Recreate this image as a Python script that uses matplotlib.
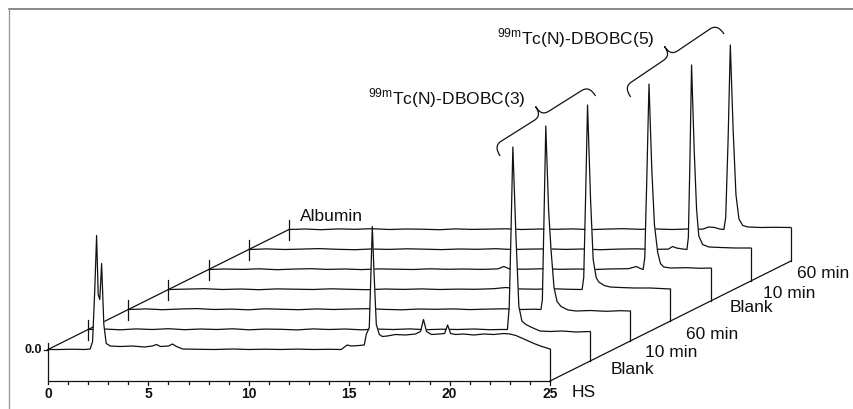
import matplotlib.pyplot as plt
from matplotlib.path import Path
from matplotlib.patches import PathPatch
from matplotlib.lines import Line2D

plt.rcParams['font.family'] = ['Liberation Sans', 'DejaVu Sans']
plt.rcParams['mathtext.fontset'] = 'custom'
plt.rcParams['mathtext.rm'] = 'Liberation Sans'

# ---- data: radio-HPLC traces (time in min, signal in a.u.) ----
sample_labels = ["HS", "Blank", "10 min", "60 min", "Blank", "10 min", "60 min"]

hs_time = [0, 0.6, 1.2, 1.8, 2.1, 2.22, 2.33, 2.42, 2.5, 2.58, 2.67, 2.78, 2.9, 3.1, 3.6,
           4.2, 4.8, 5.2, 5.4, 5.6, 6.0, 6.2, 6.4, 6.7, 7.5, 8.3, 9.2, 10.0, 10.8, 11.6,
           12.4, 13.2, 14.0, 14.6, 14.9, 15.1, 15.5, 15.75, 15.85, 16.0, 16.08, 16.15,
           16.24, 16.35, 16.5, 16.65, 16.9, 17.3, 17.8, 18.3, 18.55, 18.7, 18.85, 19.1,
           19.5, 19.75, 19.9, 20.05, 20.3, 20.7, 21.2, 21.7, 22.2, 22.7, 23.0, 23.3,
           23.7, 24.2, 24.6, 25]
hs_signal = [0, 0, 0.3, 0, 0.5, 8, 60, 114, 55, 50, 86, 25, 6, 3.5, 3,
             3.5, 2.5, 3.5, 5, 3, 3.5, 5.5, 3, 0.5, 0.2, 0, 0.5, 0, 0.3, 0,
             0.4, 0, 0.2, 0, 4.5, 3.5, 4, 4.5, 15, 22, 75, 123,
             75, 25, 15, 13, 13.5, 15, 14.5, 15.5, 18, 30, 18, 15,
             15.5, 16, 24.5, 16, 15, 15.5, 14.5, 15.5, 15, 16, 15.5, 14,
             10.5, 6, 3, 0.5]

blank3_time = [0, 0.8, 1.6, 2.4, 3.2, 4.0, 4.8, 5.6, 6.4, 7.2, 8.0, 8.8, 9.6, 10.4, 11.2,
               12.0, 12.8, 13.6, 14.4, 15.2, 16.0, 16.8, 17.6, 18.4, 19.2, 20.0, 20.5,
               20.88, 20.97, 21.05, 21.15, 21.31, 21.45, 21.6, 21.8, 22.1, 22.5, 23.0,
               23.6, 24.3, 25]
blank3_signal = [0, 0.5, -0.3, 0.6, 0, 0.8, -0.2, 0.5, 0, 0.7, -0.3, 0.4, 0.2, -0.4, 0.6,
                 0, 0.5, -0.3, 0.4, 0, 0.6, -0.2, 0.3, 0, 0.5, -0.2, 0,
                 0, 23, 90, 182.5, 90, 23, 8.5, 5, 2, -1.5, -2,
                 -1.5, -2.5, -2]

min10_3_time = [0, 0.9, 1.7, 2.6, 3.4, 4.3, 5.1, 6.0, 6.8, 7.7, 8.5, 9.4, 10.2, 11.1, 11.9,
                12.8, 13.6, 14.5, 15.3, 16.2, 17.0, 17.9, 18.7, 19.6, 20.2, 20.55, 20.62,
                20.7, 20.79, 20.93, 21.05, 21.2, 21.35, 21.55, 21.9, 22.3, 23.0, 23.8,
                24.5, 25]
min10_3_signal = [0, 0.6, -0.2, 0.5, 0.9, 0, 0.4, -0.3, 0.7, 0.2, -0.2, 0.6, 0, 0.5, 0.8,
                  0.1, -0.3, 0.5, 0.2, 0.6, -0.1, 0.4, 0.7, 0, 0.3, 0, 10,
                  90, 183.5, 100, 60, 22, 8, 3, -0.5, -1.5, -1, -1.8,
                  -1.2, -1.5]

min60_3_time = [0, 0.9, 1.8, 2.7, 3.6, 4.5, 5.4, 6.3, 7.2, 8.1, 9.0, 9.9, 10.8, 11.7, 12.6,
                13.5, 14.4, 15.3, 16.2, 16.8, 17.4, 18.3, 19.2, 20.0, 20.6, 20.68, 20.77,
                20.87, 21.02, 21.15, 21.3, 21.43, 21.7, 22.0, 22.5, 23.2, 24.0, 25]
min60_3_signal = [0, 0.4, 0.8, 0, 0.5, -0.2, 0.6, 0.3, 0, 0.7, 0.2, -0.2, 0.5, 0.1, 0.6,
                  0, 0.4, 0.2, 0.8, 2, 0.6, 0.3, 0.7, 0.2, 0, 12, 90,
                  184.5, 90, 30, 12, 7.5, 4, 2.5, 2, 1.5, 1.5, 0.5]

blank5_time = [0, 0.8, 1.7, 2.5, 3.4, 4.2, 5.1, 5.9, 6.8, 7.6, 8.5, 9.3, 10.2, 11.0, 11.9,
               12.7, 13.6, 14.4, 14.7, 15.0, 15.8, 16.7, 17.5, 18.4, 19.2, 20.1, 20.9,
               21.3, 21.5, 21.64, 21.72, 21.82, 21.93, 22.07, 22.2, 22.36, 22.5, 22.66,
               23.0, 23.8, 24.5, 25]
blank5_signal = [0, 0.5, 0.1, 0.7, -0.2, 0.4, 0.8, 0.1, 0.5, -0.1, 0.6, 0.3, 0, 0.7, 0.2,
                 0.5, 0.1, 0.6, 3, 0.5, 0.3, 0.8, 0.2, 0.5, 0, 0.6, 0.8,
                 3, 1, 0, 12, 90, 185.5, 100, 45, 17.5, 6, 2.5,
                 1.5, 1.8, 1.2, 1.5]

min10_5_time = [0, 0.9, 1.8, 2.6, 3.5, 4.4, 5.3, 6.1, 7.0, 7.9, 8.8, 9.6, 10.5, 11.4, 12.3,
                13.1, 14.0, 14.9, 15.8, 16.6, 17.5, 18.4, 19.3, 20.1, 20.9, 21.1, 21.3,
                21.6, 21.82, 21.89, 21.97, 22.05, 22.18, 22.3, 22.41, 22.6, 22.91, 23.5,
                24.2, 25]
min10_5_signal = [0, 0.6, 0, 0.4, 0.9, 0.2, -0.2, 0.5, 0.1, 0.7, 0.3, -0.1, 0.5, 0.2, 0.8,
                  0, 0.4, 0.6, 0.1, 0.5, -0.2, 0.4, 0.7, 0.1, 0.4, 3, 1.5,
                  0.5, 0, 12, 90, 184.5, 100, 40, 13.5, 5, 2.5, 2,
                  1.5, 1.5]

min60_5_time = [0, 0.8, 1.6, 2.5, 3.3, 4.1, 5.0, 5.8, 6.6, 7.5, 8.3, 9.1, 10.0, 10.8, 11.6,
                12.5, 13.3, 14.1, 15.0, 15.8, 16.6, 17.5, 18.3, 19.1, 20.0, 20.6, 20.9,
                21.2, 21.45, 21.66, 21.75, 21.87, 21.98, 22.12, 22.26, 22.41, 22.6, 22.86,
                23.5, 24.2, 25]
min60_5_signal = [0, 0.5, -0.2, 0.6, 0.2, 0.8, 0, 0.5, 0.3, -0.2, 0.6, 0.1, 0.4, 0.7, 0,
                  0.5, 0.2, 0.6, -0.1, 0.4, 0.8, 0.2, 0.5, 0, 0.6, 0.3, 2.5,
                  2, 0.5, 0, 12, 90, 184.5, 100, 35, 10.5, 4, 2.5,
                  2, 2.2, 2]

traces = [(hs_time, hs_signal), (blank3_time, blank3_signal),
          (min10_3_time, min10_3_signal), (min60_3_time, min60_3_signal),
          (blank5_time, blank5_signal), (min10_5_time, min10_5_signal),
          (min60_5_time, min60_5_signal)]

major_ticks = [0, 5, 10, 15, 20, 25]
run_end = 25

# ---- layout of the pseudo-3D stack ----
dx = 2.0        # depth shift in x (min) per trace
dy = 20.0       # depth shift in y per trace
floor = -31.5   # time axis level below the front baseline
lw = 0.9
ink = "#111111"

fig = plt.figure(figsize=(8.54, 4.10), dpi=100)
ax = fig.add_axes([0, 0, 1, 1])
x0, x1 = -48 / 20.08, (854 - 48) / 20.08
ax.set_xlim(x0, x1)
ax.set_ylim(-59.5, 350.5)
ax.axis('off')
sx = 854 / (x1 - x0)   # px per minute (y: 1 unit = 1 px)

# outer frame (top + left)
fig.add_artist(Line2D([9 / 854, 1], [1 - 10 / 410] * 2, color="#777777", lw=1.2))
fig.add_artist(Line2D([9 / 854] * 2, [0, 1 - 10 / 410], color="#999999", lw=1.0))

n = len(traces)
# depth axes
ax.plot([0, dx * (n - 1)], [0, dy * (n - 1)], color=ink, lw=lw, zorder=1)
ax.plot([run_end, run_end + dx * (n - 1)], [floor, floor + dy * (n - 1)],
        color=ink, lw=lw, zorder=1)
for k in range(1, n):
    ax.plot([dx * k, dx * k], [dy * k - 10, dy * k + 10], color=ink, lw=lw, zorder=1)

# front time axis
ax.plot([0, run_end], [floor, floor], color=ink, lw=lw, zorder=30)
ax.plot([0, 0], [floor - 3, 7], color=ink, lw=lw, zorder=30)
ax.plot([-0.22, 0], [0, 0], color=ink, lw=lw, zorder=30)
for t in range(1, run_end + 1):
    ln = 4 if t in major_ticks else 3
    ax.plot([t, t], [floor, floor - ln], color=ink, lw=lw, zorder=30)
for t in major_ticks:
    ax.text(t, floor - 12, str(t), ha='center', va='center', fontsize=10,
            fontweight='bold', color=ink)
ax.text(-0.28, 0, "0.0", ha='right', va='center', fontsize=9, fontweight='bold',
        color=ink)

# traces, back to front with white fill for hidden-line removal
for k in range(n - 1, -1, -1):
    t, s = traces[k]
    xs = [v + dx * k for v in t]
    ys = [v + dy * k for v in s]
    z = 10 + 2 * (n - 1 - k)
    ax.fill_between(xs, ys, dy * k, color='white', lw=0, zorder=z)
    ax.plot(xs, ys, color=ink, lw=lw, zorder=z + 0.5)
    ax.plot([xs[-1], xs[-1]], [ys[-1], floor + dy * k], color=ink, lw=lw, zorder=z + 0.5)

# sample labels along the right depth axis (offsets in px: right, up)
label_offsets = [(22, -10.5), (20, -7.5), (15, -11), (16, -13), (19, -6), (12, -11), (6, -12)]
for k, lab in enumerate(sample_labels):
    ox, oy = label_offsets[k]
    ax.text(run_end + dx * k + ox / sx, floor + dy * k + oy, lab, ha='left', va='center',
            fontsize=12.5, color=ink)

# Albumin label near the back end of the left depth axis
ax.text(dx * (n - 1) + 11 / sx, dy * (n - 1) + 9.5, "Albumin", ha='left', va='baseline',
        fontsize=12.5, color=ink)


def peak_top(k):
    t, s = traces[k]
    i = max(range(len(s)), key=lambda j: s[j])
    return t[i] + dx * k, s[i] + dy * k


def brace(a, b, bulge=23, arm=12, r=9):
    # a, b in data coords; brace built in px space, bulging to the left of a->b
    ax_, ay_ = a
    bx_, by_ = b
    vx, vy = (bx_ - ax_) * sx, (by_ - ay_)
    L = (vx ** 2 + vy ** 2) ** 0.5
    ux, uy = vx / L, vy / L
    px, py = -uy, ux
    m = L / 2
    local = [(0, 0), (0, 0.65 * arm), (r * 0.25, arm), (r, arm),
             (m - r, arm),
             (m - 0.25 * r, arm), (m, arm + 0.3 * (bulge - arm)), (m, bulge),
             (m, arm + 0.3 * (bulge - arm)), (m + 0.25 * r, arm), (m + r, arm),
             (L - r, arm),
             (L - 0.25 * r, arm), (L, 0.65 * arm), (L, 0)]
    codes = [Path.MOVETO, Path.CURVE4, Path.CURVE4, Path.CURVE4, Path.LINETO,
             Path.CURVE4, Path.CURVE4, Path.CURVE4, Path.CURVE4, Path.CURVE4, Path.CURVE4,
             Path.LINETO, Path.CURVE4, Path.CURVE4, Path.CURVE4]
    verts = [(ax_ + (u * ux + v * px) / sx, ay_ + (u * uy + v * py)) for u, v in local]
    ax.add_patch(PathPatch(Path(verts, codes), fill=False, color=ink, lw=lw, zorder=40))
    tip = (ax_ + (m * ux + bulge * px) / sx, ay_ + (m * uy + bulge * py))
    return tip


groups = [(1, 3, r"$^{\mathrm{99m}}$Tc(N)-DBOBC(3)", (-12.7, -9), (8, 9)),
          (4, 6, r"$^{\mathrm{99m}}$Tc(N)-DBOBC(5)", (-18.3, -13), (-6.3, 11))]
for k_a, k_b, name, off_a, off_b in groups:
    tx, ty = peak_top(k_a)
    ux_, uy_ = peak_top(k_b)
    tip = brace((tx + off_a[0] / sx, ty + off_a[1]), (ux_ + off_b[0] / sx, uy_ + off_b[1]))
    ax.text(tip[0] - 10 / sx, tip[1] + 3, name, ha='right', va='baseline', fontsize=12.5,
            color=ink)

fig.savefig("out.png", dpi=100, facecolor='white')
